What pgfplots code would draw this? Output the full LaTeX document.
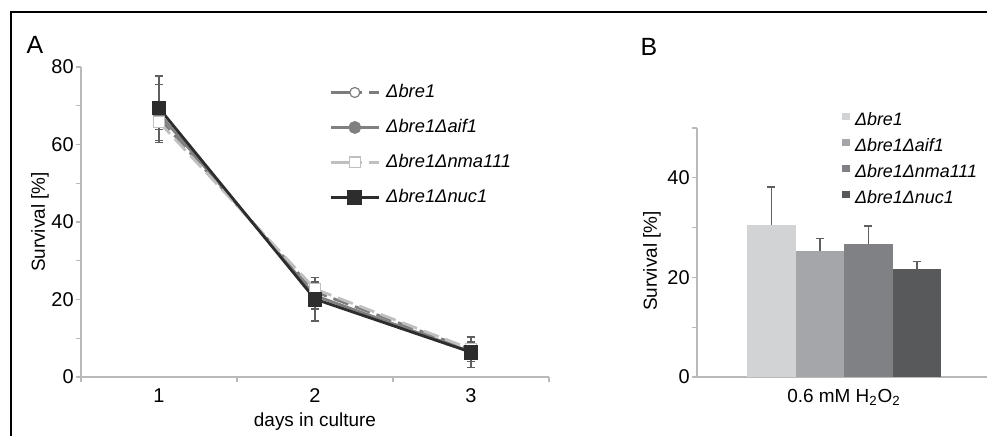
\documentclass[border=0pt]{standalone}
\usepackage{fontspec}
\setmainfont{Liberation Sans}
\usepackage{pgfplots}
\pgfplotsset{compat=1.18}
\definecolor{cbre}{RGB}{125,125,125}
\definecolor{caif}{RGB}{128,128,128}
\definecolor{cnma}{RGB}{192,192,192}
\definecolor{cnuc}{RGB}{45,45,45}
\definecolor{axgray}{RGB}{185,185,185}
\definecolor{errgray}{RGB}{95,95,95}
\definecolor{bA}{RGB}{210,211,213}
\definecolor{bB}{RGB}{165,166,170}
\definecolor{bC}{RGB}{128,129,133}
\definecolor{bD}{RGB}{88,89,91}
\newcommand{\fs}[1]{\fontsize{#1}{#1}\selectfont}
\newcommand{\strain}[1]{\textit{\symbol{"0394}#1}}

\pgfplotsset{
  panel/.style={
    scale only axis,
    axis lines=left, axis line style={-, axgray, line width=0.6bp},
    tick align=outside, major tick length=2.5bp, minor tick length=2.5bp,
    tick style={axgray, line width=0.6bp},
    tick label style={font=\fs{10}},
    yticklabel style={inner xsep=1bp},
    label style={font=\fs{9.5}},
    /pgf/number format/assume math mode=true,
    ylabel={Survival [\%]},
    legend cell align=left,
  },
}

\begin{document}
\begin{tikzpicture}
\useasboundingbox (0,0) rectangle (493.5bp,218bp);
\draw[line width=1.1bp] (5.5bp,0) -- (5.5bp,212bp) -- (493.5bp,212bp);
\node[font=\fs{12.5}] at (17.5bp,195.5bp) {A};
\node[font=\fs{12.5}] at (324.5bp,194.5bp) {B};

% panel A: survival over days
\begin{axis}[panel,
  at={(40.5bp,29.5bp)}, anchor=south west,
  width=234bp, height=155bp,
  xmin=0.5, xmax=3.5, ymin=0, ymax=80,
  xtick={1,2,3}, major x tick style={draw=none},
  minor xtick={0.5,1.5,2.5,3.5},
  ytick={0,20,40,60,80}, minor ytick={10,30,50,70},
  ylabel style={at={(rel axis cs:-0.0876,0.5)}, anchor=center},
  xlabel={days in culture}, xlabel shift=-2bp,
  legend style={at={(rel axis cs:0.53,0.953)}, anchor=north west,
    draw=none, fill=none, inner sep=0pt, row sep=7bp, column sep=2bp,
    font=\fs{9.2},
    nodes={inner sep=1bp, text height=7bp, text depth=1.5bp}},
  legend image code/.code={\draw[mark repeat=2,mark phase=2,#1]
    plot coordinates {(0bp,0bp)(12bp,0bp)(24bp,0bp)};},
  error bars/error bar style={errgray, line width=0.7bp, solid},
  error bars/error mark options={rotate=90, mark size=2.2bp, errgray, line width=0.7bp, solid},
]
\addplot[cbre, line width=1.4bp, dash pattern=on 8bp off 3.5bp,
  legend image post style={dash pattern=on 15.5bp off 3.5bp on 8bp off 2bp},
  mark=*, mark options={solid, fill=white, draw=cbre, line width=0.6bp}, mark size=2.5bp,
  error bars/.cd, y dir=both, y explicit]
  coordinates {(1,66.8) +- (0,3.0) (2,22.0) +- (0,1.2) (3,7.0) +- (0,1.0)};
\addlegendentry{\strain{bre1}}
\addplot[caif, line width=1.4bp,
  mark=*, mark options={solid, fill=caif, draw=caif}, mark size=2.5bp,
  error bars/.cd, y dir=both, y explicit]
  coordinates {(1,68.0) +- (0,7.5) (2,21.0) +- (0,3.5) (3,6.5) +- (0,2.5)};
\addlegendentry{\strain{bre1}\strain{aif1}}
\addplot[cnma, line width=1.4bp, dash pattern=on 8bp off 3.5bp,
  legend image post style={dash pattern=on 15.5bp off 3.5bp on 8bp off 2bp},
  mark=square*, mark options={solid, fill=white, draw=cnma, line width=0.6bp}, mark size=2.7bp,
  error bars/.cd, y dir=both, y explicit]
  coordinates {(1,65.8) +- (0,2.0) (2,22.7) +- (0,1.0) (3,7.2) +- (0,1.0)};
\addlegendentry{\strain{bre1}\strain{nma111}}
\addplot[cnuc, line width=1.4bp,
  mark=square*, mark options={solid, fill=cnuc, draw=cnuc}, mark size=3bp,
  error bars/.cd, y dir=both, y explicit]
  coordinates {(1,69.4) +- (0,8.3) (2,20.1) +- (0,5.6) (3,6.4) +- (0,3.9)};
\addlegendentry{\strain{bre1}\strain{nuc1}}
\end{axis}

% panel B: survival after H2O2
\begin{axis}[panel,
  at={(348.5bp,29.5bp)}, anchor=south west,
  width=145bp, height=124.5bp,
  ybar=0pt, bar width=24.25bp,
  xmin=-1, xmax=0.972, ymin=0, ymax=50,
  xtick={0}, xticklabels={0.6 mM H\textsubscript{2}O\textsubscript{2}},
  x tick label style={font=\fs{9.5}},
  major x tick style={draw=none},
  ytick={0,20,40}, minor ytick={10,30,50},
  ylabel style={at={(rel axis cs:-0.155,0.466)}, anchor=center},
  legend style={at={(rel axis cs:0.5,1.074)}, anchor=north west,
    draw=none, fill=none, inner sep=0pt, row sep=2.5bp, column sep=1.5bp,
    font=\fs{9},
    nodes={inner sep=1bp, text height=7bp, text depth=1.5bp}},
  legend image code/.code={\fill[#1] (0bp,0.1bp) rectangle (3.8bp,3.9bp);},
  error bars/error bar style={errgray, line width=0.8bp},
  error bars/error mark options={rotate=90, mark size=2bp, errgray, line width=0.8bp},
]
\addplot[fill=bA, draw=none, error bars/.cd, y dir=plus, y explicit]
  coordinates {(0,30.6) +- (0,7.6)};
\addlegendentry{\strain{bre1}}
\addplot[fill=bB, draw=none, error bars/.cd, y dir=plus, y explicit]
  coordinates {(0,25.3) +- (0,2.5)};
\addlegendentry{\strain{bre1}\strain{aif1}}
\addplot[fill=bC, draw=none, error bars/.cd, y dir=plus, y explicit]
  coordinates {(0,26.7) +- (0,3.6)};
\addlegendentry{\strain{bre1}\strain{nma111}}
\addplot[fill=bD, draw=none, error bars/.cd, y dir=plus, y explicit]
  coordinates {(0,21.7) +- (0,1.5)};
\addlegendentry{\strain{bre1}\strain{nuc1}}
\end{axis}
\end{tikzpicture}
\end{document}
